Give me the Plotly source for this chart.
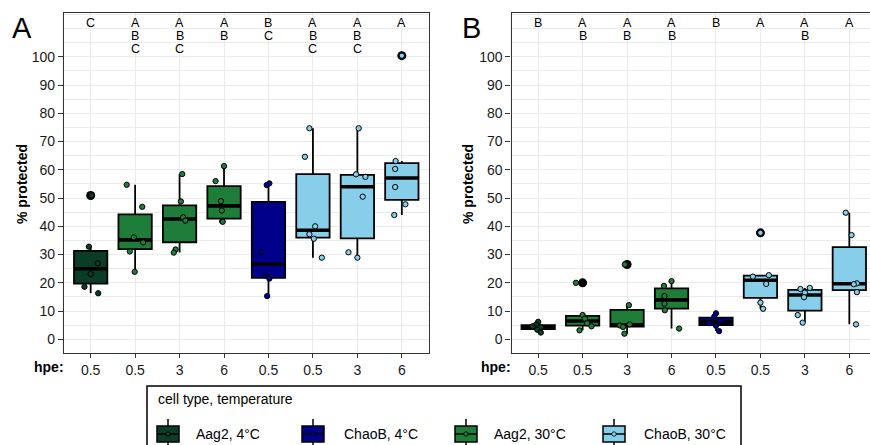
import numpy as np
import plotly.graph_objects as go

W, H = 870, 445

# ---------------- data ----------------
hpe_labels = ["0.5", "0.5", "3", "6", "0.5", "0.5", "3", "6"]
group_names = ["Aag2, 4°C", "ChaoB, 4°C", "Aag2, 30°C", "ChaoB, 30°C"]
box_group = [0, 2, 2, 2, 1, 3, 3, 3]
group_colors = ["#0b3d26", "#00008b", "#1e7d38", "#87ceeb"]

letters_A = ["C", "ABC", "ABC", "AB", "BC", "ABC", "ABC", "A"]
letters_B = ["B", "AB", "AB", "AB", "B", "A", "AB", "A"]

# Panel A: % protected per replicate
A_aag2_4C_h05 = [50.9, 32.8, 26.9, 23.1, 18.6, 16.3]
A_aag2_30C_h05 = [54.7, 46.9, 36.1, 34.3, 31.1, 23.9]
A_aag2_30C_h3 = [58.5, 48.8, 43.2, 42.0, 31.8, 30.7]
A_aag2_30C_h6 = [61.3, 56.0, 48.9, 45.6, 41.8, 41.6]
A_chaob_4C_h05 = [55.2, 54.6, 30.8, 22.5, 21.5, 15.3]
A_chaob_30C_h05 = [74.7, 64.6, 40.0, 37.2, 35.6, 28.9]
A_chaob_30C_h3 = [74.7, 58.4, 57.5, 50.5, 30.8, 28.9]
A_chaob_30C_h6 = [100.4, 63.1, 60.3, 53.9, 47.8, 44.0]

# Panel B
B_aag2_4C_h05 = [6.2, 5.2, 4.6, 4.3, 3.4, 2.4]
B_aag2_30C_h05 = [20.0, 8.6, 7.3, 5.7, 4.6, 3.2]
B_aag2_30C_h3 = [26.5, 12.1, 5.3, 4.9, 4.4, 2.0]
B_aag2_30C_h6 = [20.6, 18.9, 15.3, 12.6, 10.3, 3.8]
B_chaob_4C_h05 = [9.2, 8.0, 6.6, 5.7, 4.8, 2.9]
B_chaob_30C_h05 = [37.7, 22.7, 22.2, 19.6, 13.0, 10.8]
B_chaob_30C_h3 = [18.2, 17.8, 16.5, 14.9, 8.6, 5.9]
B_chaob_30C_h6 = [44.8, 36.9, 19.8, 19.5, 16.7, 5.3]

# horizontal jitter of the replicate points
jit_A0 = [0.02, -0.04, 0.16, 0.0, -0.14, 0.17]
jit_A1 = [-0.19, 0.16, -0.03, 0.18, -0.12, -0.01]
jit_A2 = [0.06, 0.03, 0.08, 0.13, -0.09, -0.13]
jit_A3 = [0.0, -0.19, -0.07, -0.05, -0.04, -0.03]
jit_A4 = [0.02, -0.04, -0.17, -0.05, 0.02, -0.03]
jit_A5 = [-0.08, -0.18, 0.05, -0.08, 0.02, 0.2]
jit_A6 = [0.03, -0.03, 0.18, 0.12, -0.2, 0.0]
jit_A7 = [0.0, -0.14, -0.15, -0.15, 0.08, -0.17]
jit_B0 = [0.0, -0.05, -0.13, 0.06, -0.02, 0.06]
jit_B1 = [-0.15, 0.0, 0.05, 0.1, 0.2, -0.07]
jit_B2 = [-0.05, 0.04, 0.06, -0.16, -0.09, -0.06]
jit_B3 = [0.0, -0.17, -0.16, -0.16, -0.15, 0.17]
jit_B4 = [0.0, -0.04, 0.1, -0.15, 0.0, 0.07]
jit_B5 = [0.0, 0.19, -0.17, 0.13, 0.0, 0.06]
jit_B6 = [0.11, -0.1, 0.0, -0.02, -0.16, -0.05]
jit_B7 = [-0.08, 0.05, 0.17, 0.1, 0.17, 0.15]

panel_A = [A_aag2_4C_h05, A_aag2_30C_h05, A_aag2_30C_h3, A_aag2_30C_h6,
           A_chaob_4C_h05, A_chaob_30C_h05, A_chaob_30C_h3, A_chaob_30C_h6]
panel_B = [B_aag2_4C_h05, B_aag2_30C_h05, B_aag2_30C_h3, B_aag2_30C_h6,
           B_chaob_4C_h05, B_chaob_30C_h05, B_chaob_30C_h3, B_chaob_30C_h6]
jit_A = [jit_A0, jit_A1, jit_A2, jit_A3, jit_A4, jit_A5, jit_A6, jit_A7]
jit_B = [jit_B0, jit_B1, jit_B2, jit_B3, jit_B4, jit_B5, jit_B6, jit_B7]

# ---------------- helpers ----------------
def px(p):
    return p / W


def py(p):
    return 1 - p / H


def gg_stats(v):
    v = np.asarray(v, float)
    q1, med, q3 = np.percentile(v, [25, 50, 75])
    iqr = q3 - q1
    lo_f, hi_f = q1 - 1.5 * iqr, q3 + 1.5 * iqr
    inside = v[(v >= lo_f) & (v <= hi_f)]
    out = v[(v < lo_f) | (v > hi_f)]
    return q1, med, q3, inside.min(), inside.max(), out


FONT = "Liberation Sans, Arial, Helvetica, sans-serif"
BOXW = 0.75

fig = go.Figure()

panels = [(panel_A, jit_A, "x", "y", letters_A), (panel_B, jit_B, "x2", "y2", letters_B)]
annotations = []
for data, jits, xa, ya, letters in panels:
    for i, vals in enumerate(data):
        g = box_group[i]
        col = group_colors[g]
        q1, med, q3, lo, hi, out = gg_stats(vals)
        fig.add_trace(go.Box(
            x=[i], q1=[q1], median=[med], q3=[q3], lowerfence=[lo], upperfence=[hi],
            orientation="v", width=BOXW, whiskerwidth=0, fillcolor=col,
            line=dict(color="black", width=1.8), boxpoints=False,
            showlegend=False, hoverinfo="skip", xaxis=xa, yaxis=ya))
        # thick median
        fig.add_trace(go.Scatter(
            x=[i - BOXW / 2 + 0.01, i + BOXW / 2 - 0.01], y=[med, med], mode="lines",
            line=dict(color="black", width=3.6), showlegend=False, hoverinfo="skip",
            xaxis=xa, yaxis=ya))
        # outliers
        if len(out):
            fig.add_trace(go.Scatter(
                x=[i] * len(out), y=list(out), mode="markers",
                marker=dict(size=9, color="black"), showlegend=False,
                hoverinfo="skip", xaxis=xa, yaxis=ya))
        # jittered points
        fig.add_trace(go.Scatter(
            x=[i + o for o in jits[i]], y=vals, mode="markers",
            marker=dict(size=5.3, color=col, line=dict(color="black", width=1)),
            showlegend=False, hoverinfo="skip", xaxis=xa, yaxis=ya))
        # significance letters
        for r, ch in enumerate(letters[i]):
            annotations.append(dict(
                x=i, y=112.2 - 4.6 * r, xref=xa, yref=ya, text=ch, showarrow=False,
                font=dict(family=FONT, size=12.5, color="black"),
                xanchor="center", yanchor="middle", height=11, borderpad=0))

# ---------------- axes ----------------
grid = "#ebebeb"
line_col = "#333333"
tickfont = dict(family=FONT, size=14, color="#1a1a1a")
ydom = [py(353.3), py(13.3)]
yr = [-4.95, 115.4]

xcommon = dict(tickmode="array", tickvals=list(range(8)), ticktext=hpe_labels,
               showgrid=True, gridcolor=grid, gridwidth=1.4, zeroline=False,
               showline=True, linecolor=line_col, linewidth=1.3,
               ticks="outside", ticklen=4, tickcolor=line_col, tickwidth=1.2,
               tickfont=tickfont, fixedrange=True)
ycommon = dict(range=yr, domain=ydom, tickmode="array", tickvals=list(range(0, 101, 10)),
               showgrid=True, gridcolor=grid, gridwidth=1.4, zeroline=False,
               minor=dict(dtick=5, tick0=0, showgrid=True, gridcolor=grid, gridwidth=0.9),
               showline=True, linecolor=line_col, linewidth=1.3,
               ticks="outside", ticklen=5, tickcolor=line_col, tickwidth=1.2,
               tickfont=tickfont, fixedrange=True)

fig.update_layout(
    xaxis=dict(domain=[px(64), px(428.5)], range=[-0.6, 7.6], anchor="y", mirror=True, **xcommon),
    yaxis=dict(anchor="x", mirror=True, **ycommon),
    xaxis2=dict(domain=[px(511.5), 1.0], range=[-0.6, 7.465], anchor="y2", mirror=True, **xcommon),
    yaxis2=dict(anchor="x2", mirror=False, **ycommon),
)

# ---------------- text labels ----------------
for xp, lab in [(22, "A"), (471, "B")]:
    annotations.append(dict(x=px(xp), y=py(28), xref="paper", yref="paper", text=lab,
                            showarrow=False, font=dict(family=FONT, size=29, color="black"),
                            xanchor="center", yanchor="middle"))
for xp in [22, 468]:
    annotations.append(dict(x=px(xp), y=py(184), xref="paper", yref="paper",
                            text="<b>% protected</b>", textangle=-90, showarrow=False,
                            font=dict(family=FONT, size=14, color="black"),
                            xanchor="center", yanchor="middle"))
for xp in [66, 513]:
    annotations.append(dict(x=px(xp), y=py(367), xref="paper", yref="paper",
                            text="<b>hpe:</b>", showarrow=False,
                            font=dict(family=FONT, size=14, color="black"),
                            xanchor="right", yanchor="middle"))

# ---------------- manual legend ----------------
shapes = []
shapes.append(dict(type="rect", xref="paper", yref="paper", x0=px(147), x1=px(741),
                   y0=py(470), y1=py(386), line=dict(color="black", width=1.5),
                   fillcolor="white", layer="above"))
annotations.append(dict(x=px(156), y=py(399), xref="paper", yref="paper",
                        text="cell type, temperature", showarrow=False,
                        font=dict(family=FONT, size=14, color="black"),
                        xanchor="left", yanchor="middle"))
key_left = [157, 302, 455, 603]
label_left = [194, 342, 492, 642]
for k in range(4):
    x0, x1 = key_left[k], key_left[k] + 22
    xc = (x0 + x1) / 2
    shapes.append(dict(type="line", xref="paper", yref="paper", x0=px(xc), x1=px(xc),
                       y0=py(448), y1=py(419), line=dict(color="black", width=1.5), layer="above"))
    shapes.append(dict(type="rect", xref="paper", yref="paper", x0=px(x0), x1=px(x1),
                       y0=py(442), y1=py(426), fillcolor=group_colors[k],
                       line=dict(color="black", width=1.5), layer="above"))
    shapes.append(dict(type="line", xref="paper", yref="paper", x0=px(x0), x1=px(x1),
                       y0=py(434), y1=py(434), line=dict(color="black", width=1.5), layer="above"))
    shapes.append(dict(type="circle", xref="paper", yref="paper", x0=px(xc - 2.2), x1=px(xc + 2.2),
                       y0=py(436.2), y1=py(431.8), fillcolor=group_colors[k],
                       line=dict(color="black", width=0.8), layer="above"))
    annotations.append(dict(x=px(label_left[k]), y=py(434), xref="paper", yref="paper",
                            text=group_names[k], showarrow=False,
                            font=dict(family=FONT, size=14, color="black"),
                            xanchor="left", yanchor="middle"))

fig.update_layout(
    width=W, height=H, margin=dict(l=0, r=0, t=0, b=0),
    paper_bgcolor="white", plot_bgcolor="white",
    showlegend=False, annotations=annotations, shapes=shapes,
    font=dict(family=FONT, size=14, color="black"),
)

fig.write_html(
    "out.html",
    config={"displayModeBar": False},
    post_script="document.body.style.margin='0';document.body.style.overflow='hidden';",
)
